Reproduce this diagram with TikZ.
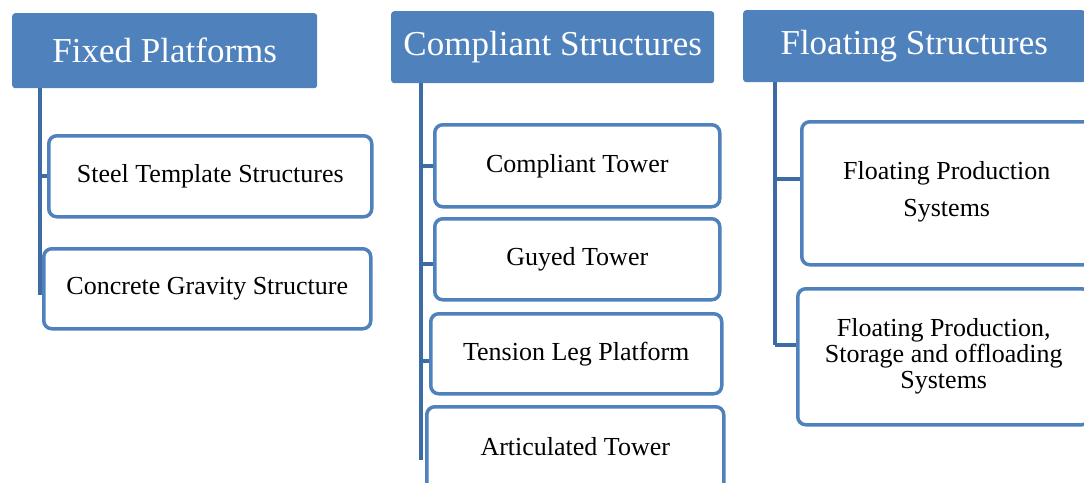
\documentclass[tikz,border=0pt]{standalone}
\usepackage{fontspec}
\setmainfont{Liberation Serif}
\definecolor{hdrblue}{HTML}{4F81BD}
\definecolor{linkblue}{HTML}{3D6CA5}
\begin{document}
\begin{tikzpicture}[x=1pt,y=1pt,
  hdr/.style={draw=none, fill=hdrblue, rounded corners=3pt, text=white, font=\fontsize{35}{40}\selectfont, inner sep=0pt, anchor=north west},
  child/.style={draw=hdrblue, line width=3.5pt, fill=white, rounded corners=8pt, text=black, font=\fontsize{26}{30}\selectfont, inner sep=0pt, anchor=north west, align=center},
  conn/.style={draw=linkblue, line width=4pt}]
\useasboundingbox (0,0) rectangle (1084,-482);
\clip (0,0) rectangle (1084,-482);
% headers
\node[hdr, minimum width=305pt, minimum height=75pt] (h1) at (12,-13) {Fixed Platforms};
\node[hdr, minimum width=323pt, minimum height=72pt] (h2) at (391,-11) {Compliant Structures};
\node[hdr, minimum width=342pt, minimum height=72pt] (h3) at (743,-10) {Floating Structures};
% connector anchors
\coordinate (v1top) at ([xshift=28pt]h1.south west);
\coordinate (v1bot) at (40,-295);
\coordinate (v2top) at ([xshift=30pt]h2.south west);
\coordinate (v2bot) at (421,-460);
\coordinate (v3top) at ([xshift=32pt]h3.south west);
\coordinate (v3bot) at (775,-345);
\draw[conn] (v1top) -- (v1bot);
\draw[conn] (v2top) -- (v2bot);
\draw[conn] (v3top) -- (v3bot);
% column 1 children
\node[child, minimum width=323pt, minimum height=81pt] (s1) at (47,-134) {Steel Template Structures};
\node[child, minimum width=327pt, minimum height=80pt] (s2) at (42,-247) {Concrete Gravity Structure};
% column 2 children
\node[child, minimum width=285pt, minimum height=82pt] (c1) at (433,-123) {Compliant Tower};
\node[child, minimum width=285pt, minimum height=81pt] (c2) at (433,-217) {Guyed Tower};
\node[child, minimum width=291pt, minimum height=80pt] (c3) at (429,-312) {Tension Leg Platform};
\node[child, minimum width=297pt, minimum height=95pt] (c4) at (425,-405) {};
\node[font=\fontsize{26}{30}\selectfont] (c4t) at ([yshift=8pt]c4.center) {Articulated Tower};
% column 3 children
\node[child, minimum width=290pt, minimum height=143pt] (f1) at (800,-120) {};
\node[font=\fontsize{26}{37}\selectfont, align=center] (f1t) at ([yshift=1pt]f1.center) {Floating Production\\Systems};
\node[child, minimum width=292pt, minimum height=136pt, font=\fontsize{26}{26}\selectfont] (f2) at (796,-287) {Floating Production,\\Storage and offloading\\Systems};
% ticks
\draw[conn] (v1top |- s1.west) -- (s1.west);
\draw[conn] (v2top |- c1.west) -- (c1.west);
\draw[conn] ([yshift=-5pt]v2top |- c2.west) -- ([yshift=-5pt]c2.west);
\draw[conn] ([yshift=-7pt]v2top |- c3.west) -- ([yshift=-7pt]c3.west);
\draw[conn] ([yshift=14pt]v3top |- f1.west) -- ([yshift=14pt]f1.west);
\draw[conn] ([yshift=12pt]v3top |- f2.west) -- ([yshift=12pt]f2.west);
\end{tikzpicture}
\end{document}
